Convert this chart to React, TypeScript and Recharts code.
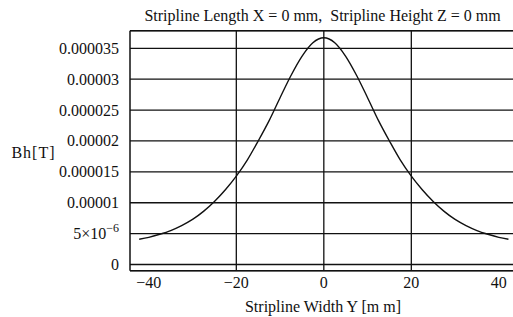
import React from 'react';
import { LineChart, Line, XAxis, YAxis, CartesianGrid, ReferenceLine } from 'recharts';

const widthY = [
  -42.2, -40, -37.5, -35, -32.5, -30, -27.5, -25, -22.5, -20, -17.5, -15, -12.5, -10, -7.5, -5, -2.5,
  0,
  2.5, 5, 7.5, 10, 12.5, 15, 17.5, 20, 22.5, 25, 27.5, 30, 32.5, 35, 37.5, 40, 42.2,
];
const bh = [
  4.1e-6, 4.4e-6, 4.9e-6, 5.5e-6, 6.3e-6, 7.3e-6, 8.6e-6, 10.2e-6, 12.1e-6, 14.3e-6, 16.9e-6, 20.0e-6,
  23.3e-6, 27.0e-6, 30.6e-6, 33.7e-6, 35.9e-6,
  36.7e-6,
  35.9e-6, 33.7e-6, 30.6e-6, 27.0e-6, 23.3e-6, 20.0e-6, 16.9e-6, 14.3e-6, 12.1e-6, 10.2e-6, 8.6e-6,
  7.3e-6, 6.3e-6, 5.5e-6, 4.9e-6, 4.4e-6, 4.1e-6,
];

const xTickValues = [-40, -20, 0, 20, 40];
const xTickLabels = ['−40', '−20', '0', '20', '40'];
const xMinorTicks = [-40, -35, -30, -25, -20, -15, -10, -5, 0, 5, 10, 15, 20, 25, 30, 35, 40];
const xGridValues = [-20, 0, 20];
const yTickValues = [0, 5e-6, 1e-5, 1.5e-5, 2e-5, 2.5e-5, 3e-5, 3.5e-5];
const yTickLabels = ['0', '5×10^−6', '0.00001', '0.000015', '0.00002', '0.000025', '0.00003', '0.000035'];
const yMinorTicks = [
  0, 1e-6, 2e-6, 3e-6, 4e-6, 5e-6, 6e-6, 7e-6, 8e-6, 9e-6, 10e-6, 11e-6, 12e-6, 13e-6, 14e-6, 15e-6,
  16e-6, 17e-6, 18e-6, 19e-6, 20e-6, 21e-6, 22e-6, 23e-6, 24e-6, 25e-6, 26e-6, 27e-6, 28e-6, 29e-6,
  30e-6, 31e-6, 32e-6, 33e-6, 34e-6, 35e-6, 36e-6, 37e-6,
];

const title = 'Stripline Length X = 0 mm,  Stripline Height Z = 0 mm';
const xLabel = 'Stripline Width Y [m m]';
const yLabel = 'Bh[T]';

const data = widthY.map((w, i) => ({ w, bh: bh[i] }));

const FONT = '"Liberation Serif", "DejaVu Serif", serif';
const INK = '#111';
const FS = 16;
const xDomain: [number, number] = [-44.3, 43.24];
const yDomain: [number, number] = [-1e-6, 37.85e-6];

const YTick = (props: any) => {
  const { x, y, payload } = props;
  const i = yTickValues.findIndex((v) => Math.abs(v - payload.value) < 1e-9);
  const label = i >= 0 ? yTickLabels[i] : '';
  if (label.includes('^')) {
    const [base, exp] = label.split('^');
    return (
      <text x={x} y={y} dy={5.5} textAnchor="end" fontFamily={FONT} fontSize={FS} fill={INK}>
        <tspan>{base}</tspan>
        <tspan dy={-7} fontSize={12}>{exp}</tspan>
      </text>
    );
  }
  return (
    <text x={x} y={y} dy={5.5} textAnchor="end" fontFamily={FONT} fontSize={FS} fill={INK}>
      {label}
    </text>
  );
};

const XTick = (props: any) => {
  const { x, y, payload } = props;
  const i = xTickValues.findIndex((v) => Math.abs(v - payload.value) < 1e-9);
  const label = i >= 0 ? xTickLabels[i] : '';
  return (
    <text x={x} y={y} dy={17.5} textAnchor="middle" fontFamily={FONT} fontSize={FS} fill={INK}>
      {label}
    </text>
  );
};

export default function App() {
  return (
    <div style={{ position: 'absolute', left: 0, top: 0, width: 513, height: 317, background: '#fff' }}>
      <LineChart
        width={513}
        height={317}
        data={data}
        margin={{ top: 30.7, right: 0, bottom: 0, left: 0 }}
      >
        <CartesianGrid vertical={false} stroke={INK} strokeWidth={1.3} />
        {xGridValues.map((v) => (
          <ReferenceLine key={v} x={v} stroke={INK} strokeWidth={1.3} />
        ))}
        <XAxis
          type="number"
          dataKey="w"
          domain={xDomain}
          ticks={xTickValues}
          interval={0}
          allowDataOverflow
          height={46.3}
          tickLine={false}
          tickSize={0}
          tickMargin={0}
          tick={<XTick />}
          axisLine={{ stroke: INK, strokeWidth: 1.5 }}
        />
        <XAxis
          xAxisId="bottomMinor"
          type="number"
          domain={xDomain}
          ticks={xMinorTicks}
          interval={0}
          allowDataOverflow
          mirror
          tick={false}
          tickSize={3}
          tickLine={{ stroke: INK, strokeWidth: 1 }}
          axisLine={false}
        />
        <XAxis
          xAxisId="top"
          orientation="top"
          type="number"
          domain={xDomain}
          ticks={xMinorTicks}
          interval={0}
          allowDataOverflow
          mirror
          tick={false}
          tickSize={3}
          tickLine={{ stroke: INK, strokeWidth: 1 }}
          axisLine={{ stroke: INK, strokeWidth: 1.5 }}
        />
        <YAxis
          type="number"
          domain={yDomain}
          ticks={yTickValues}
          interval={0}
          allowDataOverflow
          width={130}
          tickLine={false}
          tickSize={0}
          tickMargin={11}
          tick={<YTick />}
          axisLine={{ stroke: INK, strokeWidth: 1.5 }}
        />
        <YAxis
          yAxisId="leftMinor"
          type="number"
          domain={yDomain}
          ticks={yMinorTicks}
          interval={0}
          allowDataOverflow
          mirror
          tick={false}
          tickSize={2.5}
          tickLine={{ stroke: INK, strokeWidth: 1 }}
          axisLine={false}
        />
        <Line
          type="monotone"
          dataKey="bh"
          stroke={INK}
          strokeWidth={1.4}
          dot={false}
          activeDot={false}
          isAnimationActive={false}
        />
      </LineChart>
      <svg
        width={513}
        height={317}
        style={{ position: 'absolute', left: 0, top: 0, pointerEvents: 'none' }}
      >
        <text
          x={322.5}
          y={20.5}
          textAnchor="middle"
          fontFamily={FONT}
          fontSize={FS}
          fill={INK}
          style={{ whiteSpace: 'pre' }}
        >
          {title}
        </text>
        <text x={323} y={312} textAnchor="middle" fontFamily={FONT} fontSize={FS} fill={INK}>
          {xLabel}
        </text>
        <text
          x={33.5}
          y={158}
          textAnchor="middle"
          fontFamily={FONT}
          fontSize={FS}
          letterSpacing={1}
          fill={INK}
        >
          {yLabel}
        </text>
      </svg>
    </div>
  );
}
